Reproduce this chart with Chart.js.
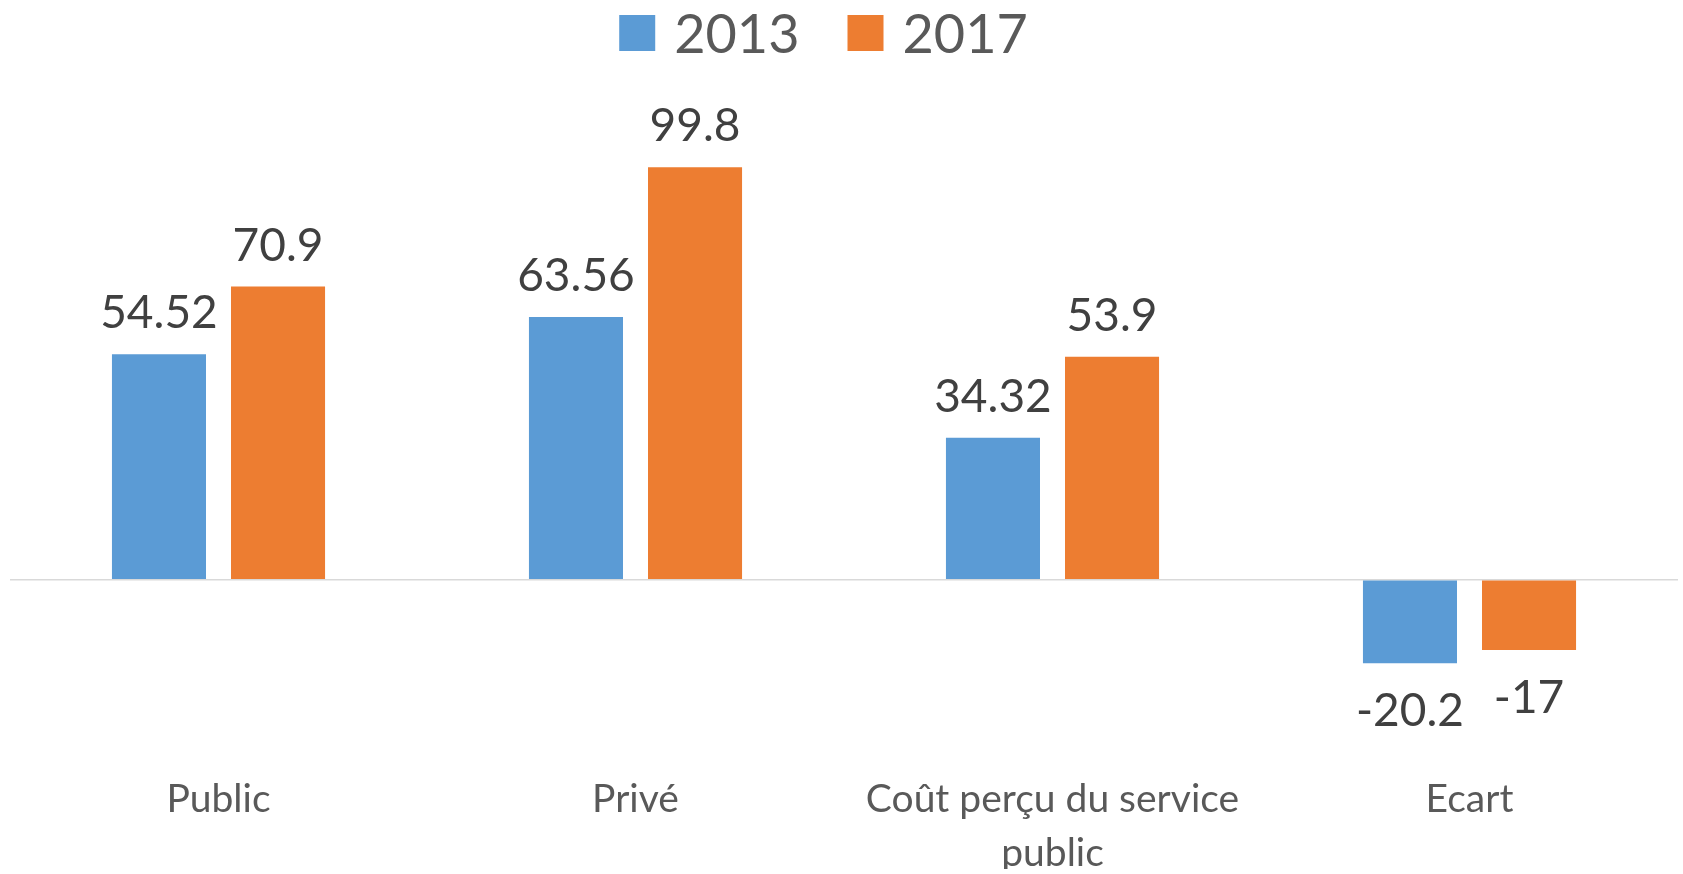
<!DOCTYPE html>
<html>
<head>
<meta charset="utf-8">
<title>2013 / 2017</title>
<style>
  html, body { margin: 0; padding: 0; background: #fff; }
</style>
<script src="https://cdn.jsdelivr.net/npm/chart.js@4.4.1/dist/chart.umd.min.js"></script>
</head>
<body>
<canvas id="chart" width="1683" height="874"></canvas>
<script>
// data
const categories = ['Public', 'Privé', ['Coût perçu du service', 'public'], 'Ecart'];
const seriesNames = ['2013', '2017'];
const values2013 = [54.52, 63.56, 34.32, -20.2];
const values2017 = [70.9, 99.8, 53.9, -17];
// hidden value axis range
const yMin = -40;
const yMax = 123.3;

const colors = ['#5B9BD5', '#ED7D31'];

Chart.defaults.font.family = 'Lato';

// value labels above / below each bar
const valueLabels = {
  id: 'valueLabels',
  afterDatasetsDraw(chart) {
    const ctx = chart.ctx;
    ctx.save();
    ctx.font = '46px Lato';
    ctx.fillStyle = '#404040';
    ctx.textAlign = 'center';
    ctx.textBaseline = 'alphabetic';
    chart.data.datasets.forEach((ds, i) => {
      chart.getDatasetMeta(i).data.forEach((bar, j) => {
        const v = ds.data[j];
        const y = v >= 0 ? bar.y - 26 : bar.y + 63;
        ctx.fillText(String(v), bar.x, y);
      });
    });
    ctx.restore();
  }
};

// legend like the office one: small gap between box and text
const topLegend = {
  id: 'topLegend',
  afterDraw(chart) {
    const ctx = chart.ctx;
    const box = 36, gap = 19, spacing = 48, center = 823.5;
    ctx.save();
    ctx.font = '54px Lato';
    const widths = chart.data.datasets.map(ds => ctx.measureText(ds.label).width);
    let total = 0;
    widths.forEach((w, i) => { total += box + gap + w + (i ? spacing : 0); });
    let x = center - total / 2;
    chart.data.datasets.forEach((ds, i) => {
      ctx.fillStyle = ds.backgroundColor;
      ctx.fillRect(x, 15, box, box);
      ctx.fillStyle = '#595959';
      ctx.textAlign = 'left';
      ctx.textBaseline = 'alphabetic';
      ctx.fillText(ds.label, x + box + gap, 53);
      x += box + gap + widths[i] + spacing;
    });
    ctx.restore();
  }
};

new Chart(document.getElementById('chart'), {
  type: 'bar',
  data: {
    labels: categories,
    datasets: [
      { label: seriesNames[0], data: values2013, backgroundColor: colors[0] },
      { label: seriesNames[1], data: values2017, backgroundColor: colors[1] }
    ]
  },
  options: {
    responsive: false,
    animation: false,
    events: [],
    categoryPercentage: 0.571,
    barPercentage: 0.79,
    layout: { padding: { top: 70, left: 10, right: 5, bottom: 5 } },
    plugins: {
      legend: { display: false },
      tooltip: { enabled: false }
    },
    scales: {
      x: {
        grid: { display: false, drawTicks: false },
        border: { display: false },
        ticks: {
          color: '#595959',
          font: { size: 39, lineHeight: 1.38 },
          padding: 28,
          maxRotation: 0,
          autoSkip: false
        },
        afterFit: s => { s.height = 124; }
      },
      y: {
        min: yMin,
        max: yMax,
        border: { display: false },
        grid: {
          drawTicks: false,
          lineWidth: 1.5,
          color: c => (c.tick && c.tick.value === 0 ? '#D9D9D9' : 'rgba(0,0,0,0)')
        },
        ticks: { display: false, stepSize: 20 }
      }
    }
  },
  plugins: [valueLabels, topLegend]
});
</script>
</body>
</html>
